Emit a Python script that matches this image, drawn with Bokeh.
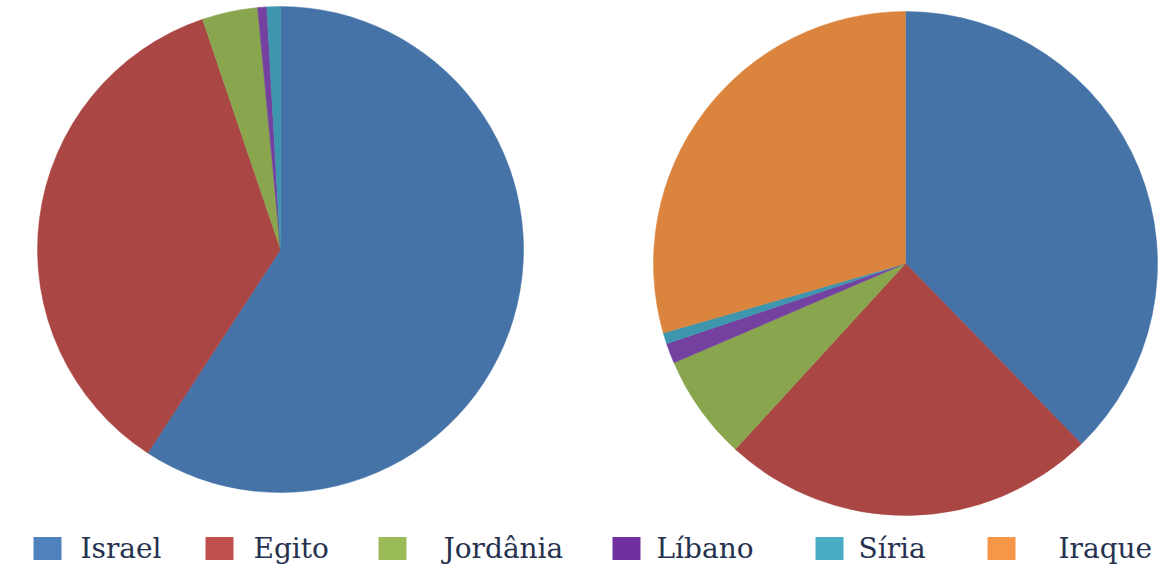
import numpy as np
from bokeh.plotting import figure
from bokeh.models import Range1d, ColumnDataSource
from bokeh.core.properties import value
from bokeh.embed import file_html
from bokeh.resources import INLINE

# ---- data ----
countries = ["Israel", "Egito", "Jordânia", "Líbano", "Síria", "Iraque"]
left_share = [59.2, 35.6, 3.7, 0.6, 0.9, 0.0]      # % (left pie)
right_share = [37.7, 24.1, 6.75, 1.3, 0.7, 29.45]  # % (right pie)

pie_colors = ["#4572A7", "#AA4643", "#89A54E", "#7441A0", "#3D96AE", "#DB843D"]
legend_colors = ["#4F81BD", "#C0504D", "#9BBB59", "#7030A0", "#4BACC6", "#F79646"]

W, H = 1169, 568
p = figure(width=W, height=H, x_range=Range1d(0, W), y_range=Range1d(0, H),
           output_backend="svg", toolbar_location=None, min_border=0)
p.axis.visible = False
p.grid.visible = False
p.outline_line_color = None
p.background_fill_color = "white"
p.border_fill_color = "white"


def pie_source(shares):
    s = np.array(shares, dtype=float)
    frac = s / s.sum()
    c1 = np.cumsum(frac)
    c0 = c1 - frac
    start = np.pi / 2 - 2 * np.pi * c1
    end = np.pi / 2 - 2 * np.pi * c0
    keep = s > 0
    return ColumnDataSource(dict(start=start[keep], end=end[keep],
                                 color=np.array(pie_colors)[keep],
                                 name=np.array(countries)[keep]))


# left pie
p.wedge(x=280, y=H - 249, radius=243, start_angle="start", end_angle="end",
        direction="anticlock", fill_color="color", line_color="color", line_width=0.5,
        source=pie_source(left_share))
# right pie
p.wedge(x=905, y=H - 263, radius=252, start_angle="start", end_angle="end",
        direction="anticlock", fill_color="color", line_color="color", line_width=0.5,
        source=pie_source(right_share))

# legend
sq_x = [47, 219, 392, 626, 829, 1001]
tx_x = [80, 253, 443, 656, 858, 1058]
ly = H - 548
leg = ColumnDataSource(dict(sx=sq_x, tx=tx_x, sy=[ly] * 6, color=legend_colors, name=countries))
p.rect(x="sx", y="sy", width=28, height=23, fill_color="color", line_color=None, source=leg)
p.text(x="tx", y="sy", text="name", source=leg, text_font=value("DejaVu Serif"),
       text_font_size="28px", text_color="#25314F", text_baseline="middle", text_align="left")

open("out.html", "w").write(file_html(p, INLINE))
